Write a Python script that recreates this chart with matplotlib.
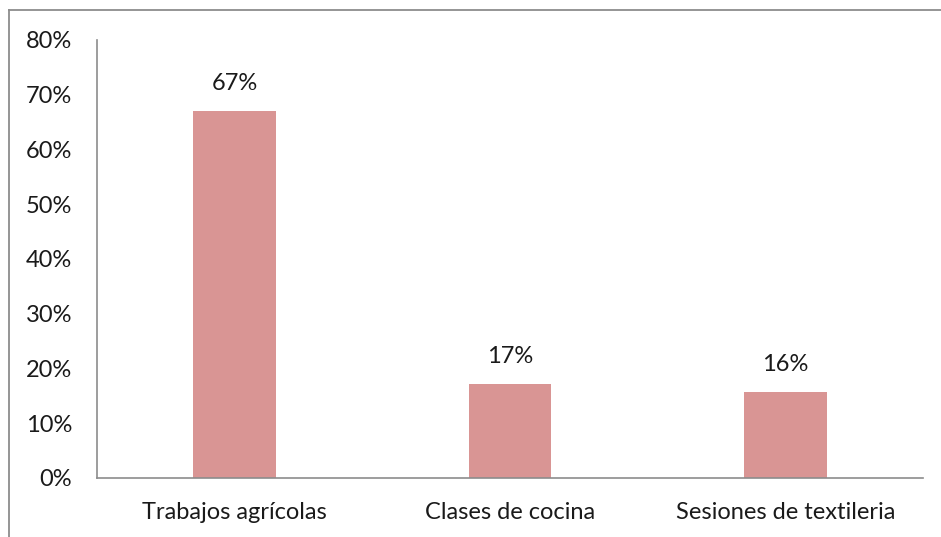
import matplotlib
matplotlib.use("Agg")
import matplotlib.pyplot as plt
import numpy as np
from matplotlib.lines import Line2D

# data
categories = ["Trabajos agrícolas", "Clases de cocina", "Sesiones de textileria"]
values = [67.1, 17.2, 15.7]
labels = ["67%", "17%", "16%"]
yticks = [0, 10, 20, 30, 40, 50, 60, 70, 80]

plt.rcParams["font.family"] = ["Lato", "DejaVu Sans"]
FS = 17

fig = plt.figure(figsize=(9.41, 5.37), dpi=100)
ax = fig.add_axes([97 / 941, 1 - 478 / 537, (923 - 97) / 941, (478 - 40) / 537])

x = np.arange(len(categories))
ax.bar(x, values, width=0.3, color="#D99594", zorder=2)
for xi, v, lab in zip(x, values, labels):
    ax.annotate(lab, (xi, v), xytext=(0, 12), textcoords="offset points",
                ha="center", va="bottom", fontsize=FS, color="#1a1a1a")

ax.set_xlim(-0.5, len(categories) - 0.5)
ax.set_ylim(0, 80)
ax.set_yticks(yticks)
ax.set_yticklabels([f"{t}%" for t in yticks], fontsize=FS, color="#1a1a1a")
ax.set_xticks(x)
ax.set_xticklabels(categories, fontsize=FS, color="#1a1a1a")
ax.tick_params(axis="both", length=0)
ax.tick_params(axis="y", pad=18)
ax.tick_params(axis="x", pad=17)

for side in ["top", "right"]:
    ax.spines[side].set_visible(False)
for side in ["left", "bottom"]:
    ax.spines[side].set_color("#8c8c8c")
    ax.spines[side].set_linewidth(1.2)

# outer chart border (cropped on right and bottom)
fig.add_artist(Line2D([9 / 941, 1.0], [1 - 10 / 537] * 2, transform=fig.transFigure,
                      color="#8c8c8c", linewidth=1.3))
fig.add_artist(Line2D([9 / 941] * 2, [0.0, 1 - 10 / 537], transform=fig.transFigure,
                      color="#8c8c8c", linewidth=1.3))

fig.savefig("out.png", dpi=100)
